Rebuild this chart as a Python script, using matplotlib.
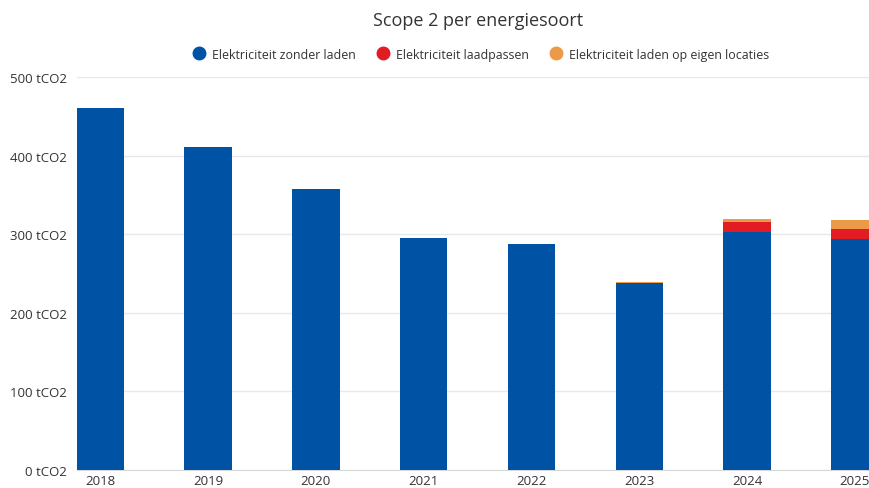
import matplotlib
matplotlib.use("Agg")
import matplotlib.pyplot as plt
from matplotlib.lines import Line2D
import numpy as np

plt.rcParams['font.family'] = ['Open Sans', 'DejaVu Sans']

years = ["2018", "2019", "2020", "2021", "2022", "2023", "2024", "2025"]
zonder_laden = [460, 411, 358, 295, 288, 238, 303, 294]
laadpassen = [0, 0, 0, 0, 0, 0.5, 12, 12]
eigen_locaties = [0, 0, 0, 0, 0, 0.8, 4, 12]

series_names = ["Elektriciteit zonder laden", "Elektriciteit laadpassen",
                "Elektriciteit laden op eigen locaties"]
colors = ["#0052A5", "#E31B23", "#EB9A47"]
yticks = [0, 100, 200, 300, 400, 500]

fig = plt.figure(figsize=(8.7, 4.89), dpi=100)
ax = fig.add_axes([0.0885, 0.0368, 0.9115, 0.8037])

x = np.arange(len(years))
w = 0.44
bottom = np.zeros(len(years))
for vals, c in zip([zonder_laden, laadpassen, eigen_locaties], colors):
    ax.bar(x, vals, w, bottom=bottom, color=c, zorder=3, linewidth=0)
    bottom += np.array(vals)

ax.set_xlim(-0.215, 7.14)
ax.set_ylim(0, 500)
ax.set_yticks(yticks)
ax.set_yticklabels([f"{v} tCO2" for v in yticks])
ax.set_xticks(x)
ax.set_xticklabels(years)
ax.grid(axis='y', color='#e8e8e8', linewidth=1, zorder=0)
for s in ['top', 'right', 'left']:
    ax.spines[s].set_visible(False)
ax.spines['bottom'].set_color('#d8d8d8')
ax.tick_params(axis='both', length=0, labelsize=9.5, colors='#333333')
ax.tick_params(axis='y', pad=7)
ax.tick_params(axis='x', pad=3)

fig.text(0.549, 0.957, "Scope 2 per energiesoort", ha='center', va='center',
         fontsize=13, color='#333333')

handles = [Line2D([0], [0], marker='o', linestyle='', markersize=9,
                  markerfacecolor=c, markeredgecolor=c) for c in colors]
fig.legend(handles, series_names, loc='center', bbox_to_anchor=(0.549, 0.887),
           ncol=3, frameon=False, fontsize=8.9, handletextpad=0.05,
           columnspacing=1.2, labelcolor='#333333')

fig.savefig("out.png", dpi=100)
